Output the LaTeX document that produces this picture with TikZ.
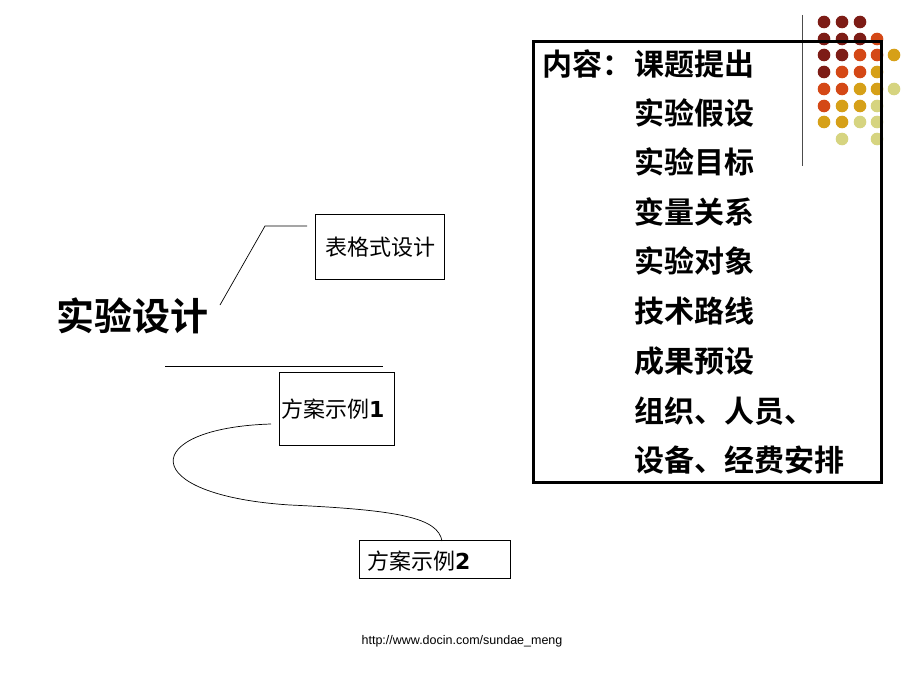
\documentclass[tikz,border=0pt]{standalone}
\usepackage{fontspec}
\setmainfont{Liberation Sans}
\newfontfamily\cjk{Noto Sans CJK SC}
\newfontfamily\cjkb{Noto Sans CJK SC Bold}
\newfontfamily\dvb{DejaVu Sans Bold}
\definecolor{dA}{RGB}{125,28,22}
\definecolor{dB}{RGB}{212,72,22}
\definecolor{dC}{RGB}{214,160,24}
\definecolor{dD}{RGB}{214,212,128}
\begin{document}
\begin{tikzpicture}[x=1pt,y=-1pt,
  smallbox/.style={draw,line width=0.9pt,inner sep=0pt},
  item/.style={anchor=west,inner sep=0pt,font=\cjkb\fontsize{30}{30}\selectfont},
  boxtext/.style={inner sep=0pt,font=\cjk\fontsize{22}{22}\selectfont}]
\useasboundingbox (0,0) rectangle (920,690);
\fill[white] (0,0) rectangle (920,690);
% dots
\foreach \x/\y/\c in {824/22/dA,842/22/dA,860/22/dA,
  824/39/dA,842/39/dA,860/39/dA,877/39/dB,
  824/55/dA,842/55/dA,860/55/dB,877/55/dB,894/55/dC,
  824/72/dA,842/72/dB,860/72/dB,877/72/dC,
  824/89/dB,842/89/dB,860/89/dC,877/89/dC,894/89/dD,
  824/106/dB,842/106/dC,860/106/dC,877/106/dD,
  824/122/dC,842/122/dC,860/122/dD,877/122/dD,
  842/139/dD,877/139/dD}
  \fill[\c] (\x,\y) circle (6.3);
\draw[line width=0.8pt,black!70] (802,15) -- (802,166);
% content box
\node[draw,line width=2.6pt,minimum width=348pt,minimum height=441pt,anchor=north west,inner sep=0pt] (content) at (532,40) {};
\node[item] (head) at (542,64) {内容：};
\node[item] (i1) at (634,64) {课题提出};
\node[item] (i2) at (634,113) {实验假设};
\node[item] (i3) at (634,162) {实验目标};
\node[item] (i4) at (634,212) {变量关系};
\node[item] (i5) at (634,261) {实验对象};
\node[item] (i6) at (634,311) {技术路线};
\node[item] (i7) at (634,361) {成果预设};
\node[item] (i8) at (634,411) {组织、人员、};
\node[item] (i9) at (634,460) {设备、经费安排};
% main title
\node[anchor=west,inner sep=0pt,font=\cjkb\fontsize{38}{38}\selectfont] (title) at (56,316) {实验设计};
% boxes
\node[smallbox,minimum width=129pt,minimum height=65pt,anchor=north west] (b1) at (315,214) {};
\node[boxtext] (t1) at ([xshift=1pt]b1.center) {表格式设计};
\node[smallbox,minimum width=115pt,minimum height=73pt,anchor=north west] (b2) at (279,372) {};
\node[boxtext,anchor=west] (t2) at (281,409) {方案示例{\dvb 1}};
\node[smallbox,minimum width=151pt,minimum height=38pt,anchor=north west] (b3) at (359,540) {};
\node[boxtext,anchor=west] (t3) at (367,561) {方案示例{\dvb 2}};
% connectors
\coordinate (l1a) at (220,305);
\coordinate (l1b) at (265,226);
\coordinate (l1c) at (307,226);
\draw[line width=0.7pt] (l1a) -- (l1b) -- (l1c);
\coordinate (h1) at (165,366);
\coordinate (h2) at (383,366);
\draw[line width=0.7pt] (h1) -- (h2);
\coordinate (c1) at (271,424);
\coordinate (c2) at (442,541);
\draw[line width=0.7pt] (c1) .. controls (140,428) and (135,495) .. (290,505)
  .. controls (400,510) and (438,518) .. (c2);
% url
\node[font=\fontsize{12.5}{12.5}\selectfont,inner sep=0pt] (url) at (462,641) {http://www.docin.com/sundae\_meng};
\end{tikzpicture}
\end{document}
